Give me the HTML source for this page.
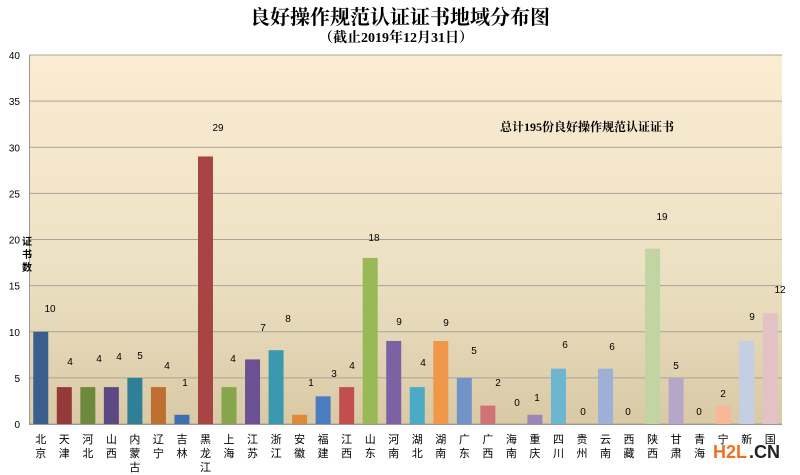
<!DOCTYPE html>
<html><head><meta charset="utf-8"><style>
html,body{margin:0;padding:0;background:#fff;width:800px;height:475px;overflow:hidden}
svg text{font-family:"Liberation Sans","Noto Sans CJK SC",sans-serif}
.serif{font-family:"Liberation Serif","Noto Serif CJK SC",serif !important}
</style></head><body>
<svg id="s" width="800" height="475" xmlns="http://www.w3.org/2000/svg">
<defs><linearGradient id="bg" x1="0" y1="0" x2="0" y2="1">
<stop offset="0" stop-color="#fbecd2"/><stop offset="0.6" stop-color="#ece0c2"/><stop offset="1" stop-color="#d9c9a5"/></linearGradient></defs>
<rect x="29" y="55" width="753" height="369" fill="url(#bg)"/>
<g id="g"></g>
<text x="400" y="24" text-anchor="middle" font-size="20" font-weight="bold" class="serif">良好操作规范认证证书地域分布图</text>
<text x="396" y="42" text-anchor="middle" font-size="14" font-weight="bold" class="serif">（截止2019年12月31日）</text>
<text x="500" y="131" font-size="12" font-weight="bold" class="serif">总计195份良好操作规范认证证书</text>
<text x="27" y="245" text-anchor="middle" font-size="10" font-weight="bold">证</text>
<text x="27" y="258" text-anchor="middle" font-size="10" font-weight="bold">书</text>
<text x="27" y="271" text-anchor="middle" font-size="10" font-weight="bold">数</text>
<text x="713" y="458" font-size="18" font-weight="bold" fill="#f07020">H2L</text>
<text x="749" y="458" font-size="18" font-weight="bold" fill="#222">.CN</text>
</svg>
<script>
var g=document.getElementById('g'),h='';
var x0=29,y0=424,k=369/40,w=753/32;
for(var i=0;i<=8;i++){var y=y0-i*5*k;
h+='<line x1="29" x2="782" y1="'+y+'" y2="'+y+'" stroke="#a9a49a" stroke-width="1"/>';
h+='<text x="20" y="'+(y+4)+'" text-anchor="end" font-size="10">'+(i*5)+'</text>';}
var d=[["北京",10,"#3a5f8f",50,308],["天津",4,"#953a3a",70,361],["河北",4,"#6d8a3c",99,358],["山西",4,"#5c4882",119,356],["内蒙古",5,"#2f7f96",140,355],["辽宁",4,"#bf6f2f",167,365],["吉林",1,"#3e6fb0",185,382],["黑龙江",29,"#a84444",218,127],["上海",4,"#86a64c",233,358],["江苏",7,"#6c5192",263,327],["浙江",8,"#3c98ae",288,318],["安徽",1,"#e0893a",311,382],["福建",3,"#4b7cc0",334,373],["江西",4,"#c24e4e",352,365],["山东",18,"#98b956",374,237],["河南",9,"#7d62a3",399,321],["湖北",4,"#4baac6",423,362],["湖南",9,"#f0974a",446,322],["广东",5,"#7293c8",474,350],["广西",2,"#cf7474",498,382],["海南",0,"#aaa",517,402],["重庆",1,"#9a86b8",537,397],["四川",6,"#6eb6cf",565,344],["贵州",0,"#aaa",583,411],["云南",6,"#9fb0d6",612,346],["西藏",0,"#aaa",628,411],["陕西",19,"#c3d4a3",662,216],["甘肃",5,"#b5a7c9",676,365],["青海",0,"#aaa",699,411],["宁",2,"#f8b898",723,393],["新",9,"#c4cfe3",752,316],["国",12,"#e2c2c4",780,289]];
d.forEach(function(r,i){var cx=x0+(i+0.5)*w,bh=r[1]*k;
if(r[1]>0)h+='<rect x="'+(cx-7.5)+'" y="'+(y0-bh)+'" width="15" height="'+bh+'" fill="'+r[2]+'"/>';
h+='<text x="'+r[3]+'" y="'+(r[4]+4)+'" text-anchor="middle" font-size="10">'+r[1]+'</text>';
var n=r[0];
for(var j=0;j<n.length;j++)h+='<text x="'+cx+'" y="'+(443+j*14)+'" text-anchor="middle" font-size="11">'+n[j]+'</text>';});
h+='<line x1="29" x2="782" y1="424.5" y2="424.5" stroke="#999"/><line x1="29.5" x2="29.5" y1="55" y2="424" stroke="#999"/>';
g.innerHTML=h;
</script>
</body></html>
